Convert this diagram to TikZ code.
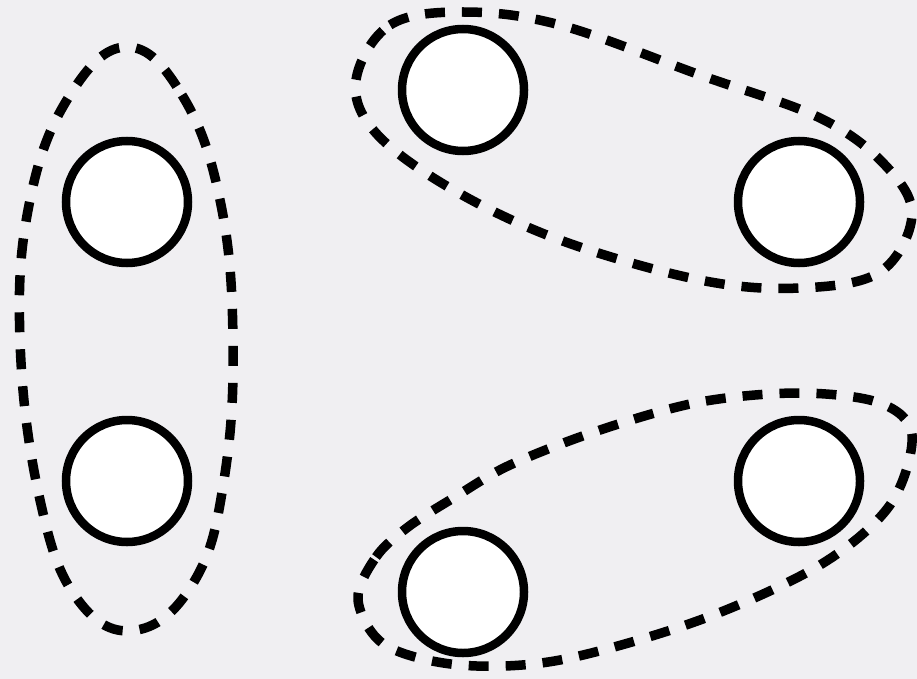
\documentclass[tikz,border=0pt]{standalone}
\begin{document}
\begin{tikzpicture}[x=1pt,y=-1pt,
  ball/.style={circle,draw=black,line width=8.5pt,fill=white,minimum size=122pt,inner sep=0pt},
  loop/.style={draw=black,line width=9.5pt,dash pattern=on 20pt off 17pt}]
\definecolor{bg}{HTML}{F0EFF2}
\fill[bg] (0,0) rectangle (917,679);
\useasboundingbox (0,0) rectangle (917,679);
\node[ball] (a) at (127,202) {};
\node[ball] (b) at (127,481) {};
\node[ball] (c) at (463,90) {};
\node[ball] (d) at (799,202) {};
\node[ball] (e) at (799,481) {};
\node[ball] (f) at (463,592) {};
\draw[loop] plot[smooth cycle,tension=0.7] coordinates {(127,47) (182,95) (220,200) (233,340) (224,480) (195,580) (137,630) (78,600) (40,500) (20,340) (30,200) (70,95)};
\draw[loop] plot[smooth cycle,tension=0.6] coordinates {(356,80) (390,25) (463,12) (560,25) (700,75) (820,118) (885,165) (912,215) (880,272) (800,288) (700,280) (560,240) (450,188) (375,132)};
\draw[loop] plot[smooth cycle,tension=0.55] coordinates {(358,600) (376,557) (408,527) (455,497) (510,465) (600,430) (700,402) (800,393) (880,403) (912,435) (890,505) (820,565) (700,620) (560,660) (460,665) (385,645)};
\end{tikzpicture}
\end{document}
